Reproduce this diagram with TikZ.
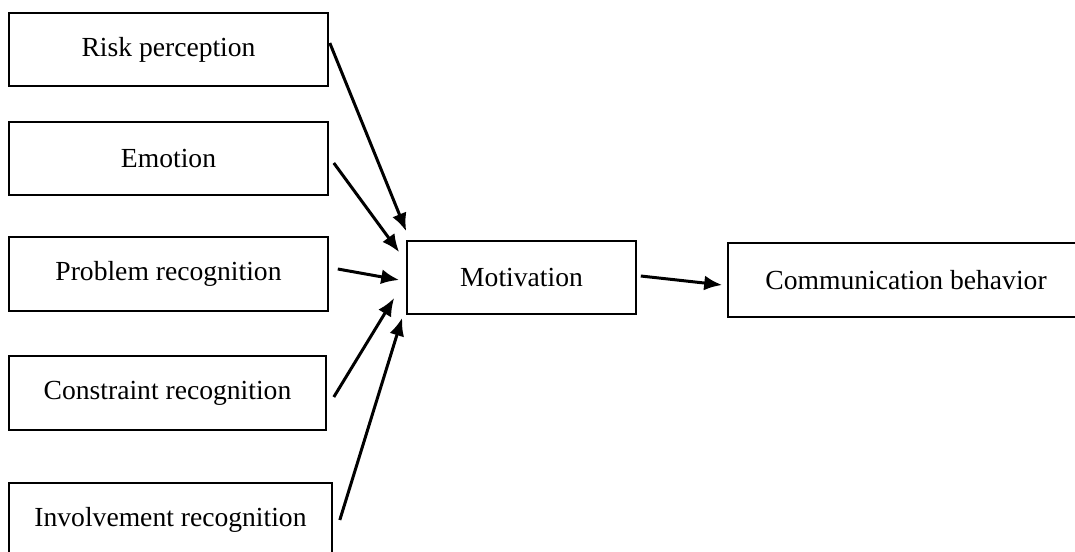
\documentclass[tikz,border=0pt]{standalone}
\usepackage{fontspec}
\setmainfont{Liberation Serif}
\usetikzlibrary{arrows.meta,calc}
\begin{document}
\begin{tikzpicture}[x=0.5pt,y=-0.5pt,
  box/.style={draw,line width=0.8pt,inner sep=0pt,minimum height=36.5pt,
    font=\fontsize{13.8}{16}\selectfont},
  arr/.style={line width=1.5pt,-{Latex[length=9pt,width=7.5pt]}}]
\clip (0,0) rectangle (1075,551);
\fill[white] (0,0) rectangle (1075,551);
\node[box,minimum width=159.5pt] (risk) at (168.5,49.5) {Risk perception};
\node[box,minimum width=159.5pt] (emo) at (168.5,158.5) {Emotion};
\node[box,minimum width=159.5pt,minimum height=37pt] (prob) at (168.5,274) {Problem recognition};
\node[box,minimum width=158.5pt,minimum height=37pt] (cons) at (167.5,393) {Constraint recognition};
\node[box,minimum width=161.5pt] (inv) at (170.5,519.5) {Involvement recognition};
\node[box,minimum width=114.5pt] (mot) at (521.5,277.5) {Motivation};
\node[box,minimum width=178pt,minimum height=37pt] (comm) at (906,280) {Communication behavior};
\draw[arr] ($(risk.east)+(1,-6.5)$) -- ($(mot.north west)+(0,-9)$);
\draw[arr] ($(emo.east)+(5,4.5)$) -- ($(mot.north west)+(-7,12)$);
\draw[arr] ($(prob.east)+(9,-5)$) -- ($(mot.west)+(-7,2.5)$);
\draw[arr] ($(cons.east)+(7,4)$) -- ($(mot.west)+(-12,20.5)$);
\draw[arr] ($(inv.east)+(7,0.5)$) -- ($(mot.south west)+(-4,3)$);
\draw[arr] ($(mot.east)+(4,-1.5)$) -- ($(comm.west)+(-5,5)$);
\end{tikzpicture}
\end{document}
